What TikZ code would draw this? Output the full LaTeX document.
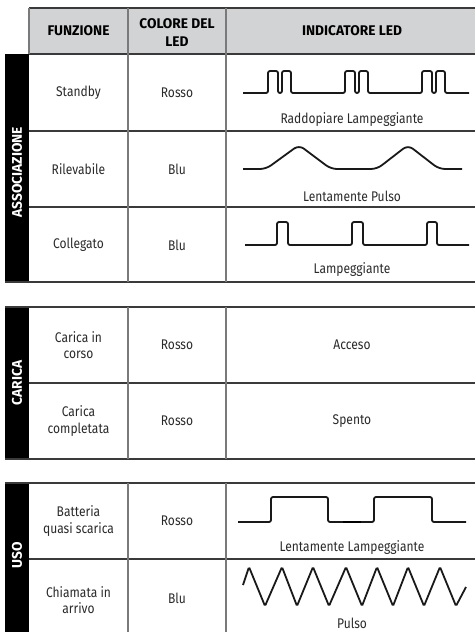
\documentclass[tikz,border=0pt]{standalone}
\usepackage{fontspec}
\setmainfont[FakeStretch=0.86]{Fira Sans}
\newfontfamily\hdrfont[FakeStretch=0.98]{Fira Sans}
\definecolor{hdrgray}{HTML}{D2D3D5}
\definecolor{hcol}{HTML}{3A3A3A}
\definecolor{vcol}{HTML}{7A7A7A}
\definecolor{txtcol}{HTML}{2A2A2A}
\begin{document}
\begin{tikzpicture}[x=1pt,y=-1pt,
  hline/.style={draw=hcol,line width=1.3pt},
  vline/.style={draw=vcol,line width=1.3pt},
  wave/.style={draw=black!90,line width=1.8pt,rounded corners=2pt},
  cell/.style={font=\fontsize{14}{16.5}\selectfont,align=center,text=txtcol,inner sep=0pt},
  hdr/.style={font=\hdrfont\fontsize{14}{18}\selectfont\bfseries,align=center,text=black,inner sep=0pt},
  side/.style={font=\hdrfont\fontsize{14}{16}\selectfont\bfseries,text=white,rotate=90,inner sep=0pt}]
\useasboundingbox (0,0) rectangle (475,632);
% ---------- table 1
\fill[hdrgray] (29,8) rectangle (475,54);
\fill[black] (5,54) rectangle (29,282);
\draw[hline] (29,8) -- (475,8);
\draw[hline] (29,54) -- (475,54);
\draw[hline] (29,131) -- (475,131);
\draw[hline] (29,207) -- (475,207);
\draw[hline] (5,282) -- (475,282);
\draw[vline] (29,8) -- (29,54);
\draw[vline] (128,8) -- (128,282);
\draw[vline] (226,8) -- (226,282);
\node[hdr] (h1) at (78.5,31) {FUNZIONE};
\node[hdr] (h2) at (177,33) {COLORE DEL\\LED};
\node[hdr] (h3) at (352,31) {INDICATORE LED};
\node[side] (s1) at (17,172) {ASSOCIAZIONE};
\node[cell] (f1) at (78.5,93) {Standby};
\node[cell] (c1) at (177,93) {Rosso};
\node[cell] (f2) at (78.5,169) {Rilevabile};
\node[cell] (c2) at (177,169) {Blu};
\node[cell] (f3) at (78.5,245) {Collegato};
\node[cell] (c3) at (177,245) {Blu};
\node[cell] (l1) at (352,120) {Raddopiare Lampeggiante};
\node[cell] (l2) at (352,196) {Lentamente Pulso};
\node[cell] (l3) at (352,270) {Lampeggiante};
% double blink
\draw[wave] (243,93) -- (268,93) -- (268,71) -- (278,71) -- (278,93) -- (282,93) -- (282,71) -- (291,71) -- (291,93)
  -- (345,93) -- (345,71) -- (355,71) -- (355,93) -- (359,93) -- (359,71) -- (368,71) -- (368,93)
  -- (422,93) -- (422,71) -- (432,71) -- (432,93) -- (436,93) -- (436,71) -- (445,71) -- (445,93) -- (469,93);
% slow pulse
\draw[wave,rounded corners=6pt] (243,169) -- (266,169) -- (299,145) -- (331,169) -- (377,169) -- (408,145) -- (439,169) -- (462,169);
% blink
\draw[wave] (245,245) -- (277,245) -- (277,222) -- (288,222) -- (288,245) -- (352,245) -- (352,222) -- (363,222) -- (363,245)
  -- (427,245) -- (427,222) -- (437,222) -- (437,245) -- (469,245);
% ---------- table 2
\fill[black] (5,307) rectangle (29,459);
\draw[hline] (5,307) -- (475,307);
\draw[hline] (29,383) -- (475,383);
\draw[hline] (5,459) -- (475,459);
\draw[vline] (128,307) -- (128,459);
\draw[vline] (226,307) -- (226,459);
\node[side] (s2) at (17,383) {CARICA};
\node[cell] (f4) at (78.5,345) {Carica in\\corso};
\node[cell] (c4) at (177,345) {Rosso};
\node[cell] (i4) at (352,345) {Acceso};
\node[cell] (f5) at (78.5,421) {Carica\\completata};
\node[cell] (c5) at (177,421) {Rosso};
\node[cell] (i5) at (352,421) {Spento};
% ---------- table 3
\fill[black] (5,483) rectangle (29,632);
\draw[hline] (5,483) -- (475,483);
\draw[hline] (29,559) -- (475,559);
\draw[vline] (128,483) -- (128,632);
\draw[vline] (226,483) -- (226,632);
\node[side] (s3) at (17,555) {USO};
\node[cell] (f6) at (78.5,521) {Batteria\\quasi scarica};
\node[cell] (c6) at (177,521) {Rosso};
\node[cell] (f7) at (78.5,600) {Chiamata in\\arrivo};
\node[cell] (c7) at (177,598) {Blu};
\node[cell] (l6) at (352,548) {Lentamente Lampeggiante};
\node[cell] (l7) at (352,623) {Pulso};
% slow blink
\draw[wave] (238,522) -- (271,522) -- (271,497) -- (328,497) -- (328,522) -- (374,522) -- (374,497) -- (432,497) -- (432,522) -- (466,522);
\draw[draw=black,line width=2.8pt] (343,522) -- (361,522);
% zigzag
\draw[wave,rounded corners=1.5pt] (243,585) -- (249,567) -- (265,606) -- (282,567) -- (297,606) -- (313,567) -- (329,606) -- (346,567)
  -- (362,606) -- (377,567) -- (393,606) -- (408,567) -- (424,606) -- (440,567) -- (456,606) -- (466,587);
\end{tikzpicture}
\end{document}
